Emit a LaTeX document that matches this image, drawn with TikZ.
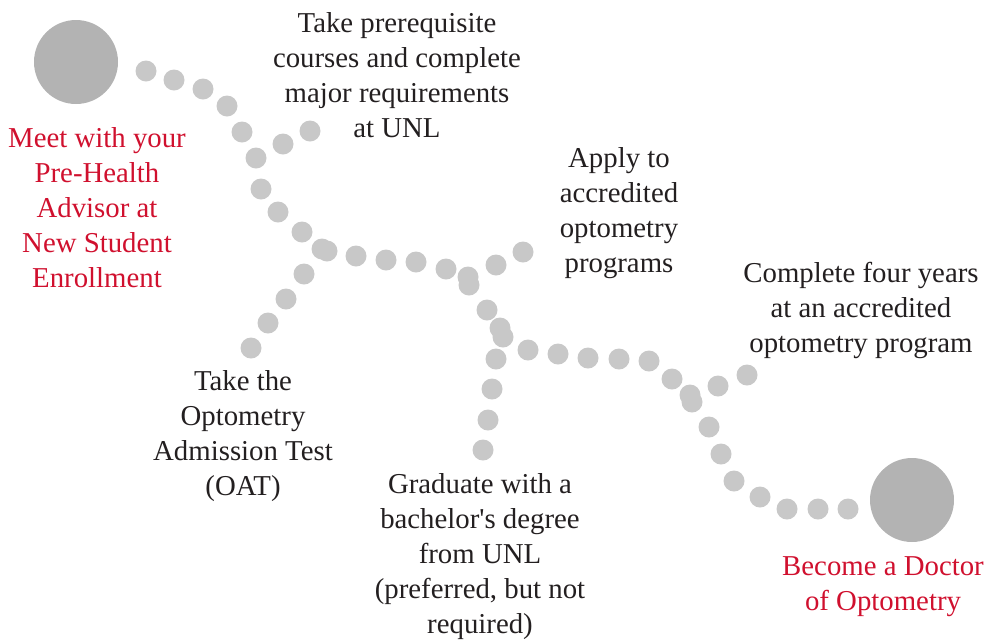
\documentclass[tikz,border=0pt]{standalone}
\usepackage{fontspec}
\setmainfont{Liberation Serif}
\definecolor{dotgray}{HTML}{C8C8C8}
\definecolor{biggray}{HTML}{B3B3B3}
\definecolor{unlred}{HTML}{D0102E}
\definecolor{textblack}{HTML}{231F20}
\begin{document}
\begin{tikzpicture}[x=1pt,y=-1pt,
  bigdot/.style={circle, fill=biggray, minimum size=84pt, inner sep=0pt},
  smalldot/.style={fill=dotgray},
  steptext/.style={font=\fontsize{28.8}{35}\selectfont, align=center, text=textblack, inner sep=0pt, anchor=base},
  redtext/.style={steptext, text=unlred}]
\useasboundingbox (0,0) rectangle (986,641);
\node[bigdot] (start) at (76,62) {};
\node[bigdot] (finish) at (912,500) {};
% path dots
\foreach \p in {(146,71),(174,80),(203,89),(227,106),(242,132),(256,158),(261,189),(278,212),(302,232),(322,249),(327,251),
  (283,144),(310,131),
  (304,274),(286,299),(268,323),(251,348),
  (356,256),(386,260),(416,262),(446,269),(468,277),(469,285),
  (496,265),(523,252),
  (487,310),(500,328),(503,337),
  (496,359),(492,389),(488,420),(483,450),
  (528,350),(558,354),(588,358),(619,359),(649,361),(672,379),(690,395),(692,402),
  (718,386),(747,375),
  (709,427),(721,454),(734,481),(760,497),(787,509),(818,509),(848,509)}
  \fill[smalldot] \p circle[radius=10.5];
% labels (anchored at the baseline of the last line)
\node[redtext] (meet) at (97,287) {Meet with your\\Pre-Health\\Advisor at\\New Student\\Enrollment};
\node[steptext] (prereq) at (397,137) {Take prerequisite\\courses and complete\\major requirements\\at UNL};
\node[steptext] (apply) at (619,272) {Apply to\\accredited\\optometry\\programs};
\node[steptext] (complete) at (861,352) {Complete four years\\at an accredited\\optometry program};
\node[steptext] (oat) at (243,495) {Take the\\Optometry\\Admission Test\\(OAT)};
\node[steptext] (grad) at (480,633) {Graduate with a\\bachelor\textquotesingle s degree\\from UNL\\(preferred, but not\\required)};
\node[redtext] (doctor) at (883,610) {Become a Doctor\\of Optometry};
\end{tikzpicture}
\end{document}
